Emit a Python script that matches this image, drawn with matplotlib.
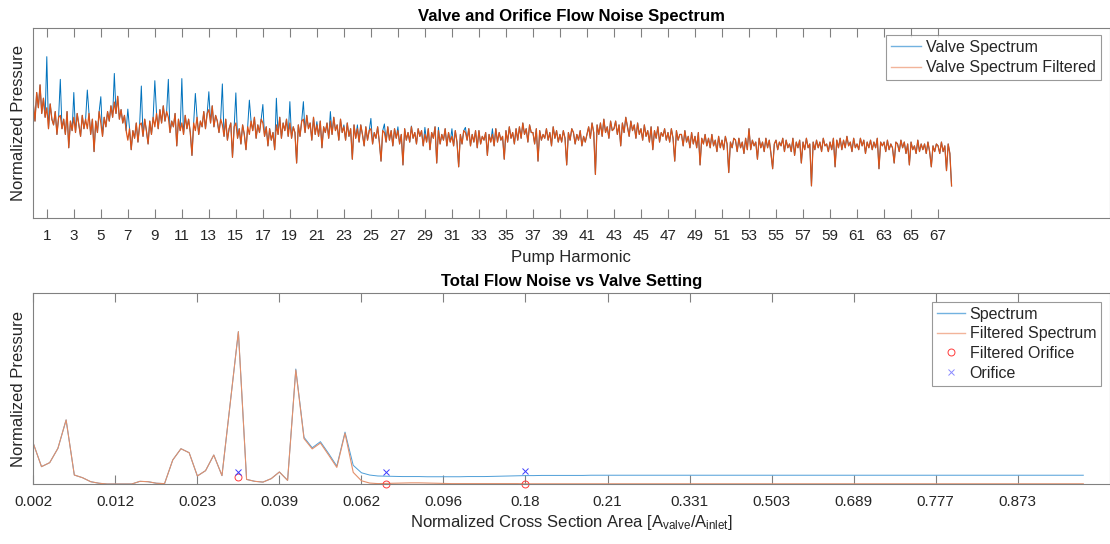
import matplotlib
matplotlib.use("Agg")
import matplotlib.pyplot as plt
import numpy as np

plt.rcParams["font.family"] = ["Liberation Sans", "DejaVu Sans"]
plt.rcParams["mathtext.fontset"] = "custom"
plt.rcParams["mathtext.rm"] = "Liberation Sans"
plt.rcParams["mathtext.it"] = "Liberation Sans"

BLUE = "#0072BD"
ORANGE = "#D95319"
AXIS_GRAY = "#808080"
TEXT = "#262626"

# ---------------- top panel: valve spectrum (8 samples per harmonic) ----------------
# values in % of axis height
filt_h00_17 = [
    60, 51, 66, 58, 70, 55, 63, 53,
    58, 47, 60, 52, 49, 56, 44, 53,
    54, 47, 52, 44, 56, 37, 51, 46,
    53, 45, 55, 49, 43, 54, 47, 52,
    47, 55, 44, 52, 35, 51, 45, 56,
    50, 43, 53, 48, 56, 51, 59, 53,
    61, 55, 64, 52, 57, 50, 54, 46,
    41, 47, 36, 46, 42, 50, 40, 49,
    50, 43, 52, 46, 39, 51, 44, 53,
    48, 55, 47, 57, 50, 59, 51, 56,
    53, 45, 51, 48, 55, 38, 52, 46,
    50, 44, 54, 47, 52, 45, 33, 50,
    46, 53, 44, 51, 48, 56, 47, 55,
    57, 50, 59, 48, 54, 51, 45, 52,
    49, 43, 52, 41, 47, 50, 32, 48,
    50, 42, 47, 39, 49, 44, 36, 48,
    44, 51, 46, 53, 42, 49, 45, 52,
]
filt_h17_34 = [
    50, 43, 48, 38, 47, 41, 45, 36,
    49, 44, 53, 42, 50, 46, 52, 43,
    50, 42, 48, 45, 29, 49, 43, 51,
    52, 45, 54, 47, 50, 41, 53, 44,
    49, 43, 51, 37, 48, 45, 50, 42,
    51, 44, 53, 46, 49, 41, 52, 45,
    48, 41, 50, 43, 47, 31, 49, 42,
    47, 40, 49, 44, 38, 48, 41, 46,
    47, 39, 45, 42, 48, 40, 30, 46,
    45, 40, 48, 41, 46, 38, 47, 42,
    46, 39, 44, 28, 47, 41, 45, 40,
    48, 42, 45, 39, 47, 43, 46, 38,
    44, 40, 47, 36, 45, 42, 48, 29,
    46, 39, 44, 41, 47, 38, 45, 40,
    43, 38, 46, 40, 27, 44, 39, 46,
    45, 41, 47, 38, 44, 40, 46, 37,
    46, 39, 43, 41, 45, 33, 44, 40,
]
filt_h34_51 = [
    44, 38, 47, 40, 45, 41, 43, 31,
    46, 40, 48, 42, 45, 39, 47, 41,
    48, 42, 50, 44, 47, 40, 49, 45,
    45, 39, 47, 30, 46, 41, 44, 42,
    47, 41, 45, 38, 48, 42, 46, 40,
    44, 40, 46, 42, 28, 45, 41, 47,
    45, 39, 44, 41, 46, 38, 43, 40,
    44, 48, 42, 50, 45, 23, 49, 44,
    50, 43, 52, 45, 48, 42, 51, 46,
    47, 51, 44, 49, 38, 50, 45, 53,
    48, 43, 51, 46, 49, 42, 50, 44,
    47, 41, 49, 43, 46, 40, 48, 36,
    46, 42, 48, 40, 45, 43, 47, 41,
    45, 40, 47, 42, 30, 46, 41, 44,
    44, 38, 46, 40, 43, 37, 45, 39,
    43, 37, 45, 28, 42, 39, 44, 38,
    42, 37, 44, 38, 41, 35, 43, 37,
]
filt_h51_68 = [
    41, 36, 43, 39, 24, 40, 37, 42,
    41, 35, 42, 37, 40, 34, 42, 36,
    47, 36, 41, 38, 40, 31, 42, 37,
    40, 35, 42, 37, 41, 34, 26, 39,
    41, 36, 40, 38, 42, 35, 41, 37,
    39, 35, 42, 33, 40, 37, 41, 29,
    40, 36, 42, 37, 39, 17, 40, 36,
    41, 37, 40, 35, 42, 38, 39, 35,
    40, 36, 42, 27, 41, 37, 42, 36,
    41, 37, 43, 38, 40, 35, 42, 37,
    39, 36, 42, 38, 41, 34, 40, 37,
    41, 36, 40, 37, 42, 26, 40, 38,
    40, 35, 41, 36, 39, 37, 29, 40,
    39, 35, 41, 37, 40, 34, 39, 28,
    40, 36, 38, 34, 41, 35, 39, 36,
    39, 34, 40, 35, 27, 38, 35, 39,
    38, 34, 40, 35, 38, 25, 39, 34,
    17,
]
SAMPLES_PER_HARMONIC = 8

# spikes of the unfiltered spectrum at the pump harmonics
spike_harmonic = list(range(1, 35))
spike_level = [84.8, 72.9, 66.0, 67.3, 63.8, 76.0, 57.3, 69.4, 72.2, 72.9,
               73.3, 65.5, 66.4, 70.5, 65.8, 62.0, 59.7, 63.0, 61.2, 61.2,
               50.7, 56.0, 49.0, 49.0, 52.4, 49.5, 48.0, 48.4, 47.7, 47.7,
               47.0, 47.7, 46.0, 47.0]

harmonic_ticks = list(range(1, 68, 2))

# ---------------- bottom panel: total noise vs valve setting ----------------
filt_total = [
    0.213, 0.091, 0.112, 0.187, 0.336, 0.047, 0.033, 0.012, 0.004, 0.000,
    0.000, 0.000, 0.000, 0.014, 0.012, 0.004, 0.002, 0.126, 0.185, 0.164,
    0.042, 0.070, 0.152, 0.044, 0.420, 0.799, 0.024, 0.014, 0.010, 0.028,
    0.063, 0.019, 0.598, 0.238, 0.184, 0.215, 0.152, 0.087, 0.266, 0.061,
    0.017, 0.005, 0.002, 0.003, 0.004, 0.005, 0.006, 0.006, 0.005, 0.004,
    0.003, 0.002, 0.002, 0.002, 0.002, 0.002, 0.002, 0.002, 0.002, 0.002,
    0.001, 0.001, 0.001, 0.001, 0.001, 0.001, 0.001, 0.001, 0.001, 0.001,
    0.001, 0.001, 0.001, 0.001, 0.001, 0.001, 0.001, 0.001, 0.001, 0.001,
    0.001, 0.001, 0.001, 0.001, 0.001, 0.001, 0.001, 0.001, 0.001, 0.001,
    0.001, 0.001, 0.001, 0.001, 0.001, 0.001, 0.001, 0.001, 0.001, 0.001,
    0.001, 0.001, 0.001, 0.001, 0.001, 0.001, 0.001, 0.001, 0.001, 0.001,
    0.001, 0.001, 0.001, 0.001, 0.001, 0.001, 0.001, 0.001, 0.001, 0.001,
    0.001, 0.001, 0.001, 0.001, 0.001, 0.001, 0.001, 0.001, 0.001,
]
spec_total = [
    0.213, 0.091, 0.112, 0.187, 0.336, 0.047, 0.033, 0.012, 0.004, 0.000,
    0.000, 0.000, 0.000, 0.014, 0.012, 0.004, 0.002, 0.126, 0.185, 0.164,
    0.042, 0.070, 0.152, 0.044, 0.420, 0.799, 0.024, 0.014, 0.010, 0.028,
    0.063, 0.019, 0.603, 0.245, 0.190, 0.222, 0.160, 0.094, 0.272, 0.098,
    0.059, 0.047, 0.042, 0.041, 0.040, 0.039, 0.039, 0.039, 0.038, 0.038,
    0.038, 0.038, 0.038, 0.039, 0.039, 0.039, 0.040, 0.041, 0.042, 0.043,
    0.044, 0.044, 0.045, 0.045, 0.045, 0.045, 0.045, 0.045, 0.046, 0.046,
    0.046, 0.046, 0.046, 0.046, 0.046, 0.046, 0.046, 0.046, 0.046, 0.046,
    0.046, 0.046, 0.046, 0.046, 0.046, 0.046, 0.046, 0.046, 0.046, 0.046,
    0.046, 0.046, 0.046, 0.046, 0.046, 0.046, 0.046, 0.046, 0.046, 0.046,
    0.046, 0.046, 0.046, 0.046, 0.046, 0.046, 0.046, 0.046, 0.046, 0.046,
    0.046, 0.046, 0.046, 0.046, 0.046, 0.046, 0.046, 0.046, 0.046, 0.046,
    0.046, 0.046, 0.046, 0.046, 0.046, 0.046, 0.046, 0.046, 0.046,
]
orifice_index = [25, 43, 60]
orifice_spec = [0.064, 0.064, 0.070]
orifice_filt = [0.035, 0.000, 0.000]

area_labels = ["0.002", "0.012", "0.023", "0.039", "0.062", "0.096", "0.18",
               "0.21", "0.331", "0.503", "0.689", "0.777", "0.873"]


def style_axes(ax):
    for sp in ax.spines.values():
        sp.set_color(AXIS_GRAY)
        sp.set_linewidth(0.8)
    ax.tick_params(axis="x", direction="in", top=True, length=6.5, width=0.8,
                   color=AXIS_GRAY, labelcolor=TEXT, labelsize=11, pad=8)
    ax.set_yticks([])


def style_legend(leg, handle_colors):
    leg.get_frame().set_linewidth(0.8)
    for t in leg.get_texts():
        t.set_color(TEXT)
    for ln, c in zip(leg.get_lines(), handle_colors):
        ln.set_color(c)
        ln.set_linewidth(1.0)
        if ln.get_marker() == "o":
            ln.set_markerfacecolor("none")


fig = plt.figure(figsize=(11.1, 5.44), dpi=100)

# top panel
ax1 = fig.add_axes([0.030, 0.5987, 0.9696, 0.3504])
filtered = np.array(filt_h00_17 + filt_h17_34 + filt_h34_51 + filt_h51_68, dtype=float)
harm = np.arange(len(filtered)) / SAMPLES_PER_HARMONIC
spectrum = filtered.copy()
for h, lvl in zip(spike_harmonic, spike_level):
    spectrum[h * SAMPLES_PER_HARMONIC] = lvl

ax1.plot(harm, spectrum, color=BLUE, lw=0.7, label="Valve Spectrum")
ax1.plot(harm, filtered, color=ORANGE, lw=0.9, label="Valve Spectrum Filtered")
ax1.set_xlim(0, 79.7)
ax1.set_ylim(0, 100)
ax1.set_xticks(harmonic_ticks)
ax1.set_xticklabels([str(h) for h in harmonic_ticks])
style_axes(ax1)
ax1.set_xlabel("Pump Harmonic", fontsize=12, color=TEXT, labelpad=5)
ax1.set_ylabel("Normalized Pressure", fontsize=12, color=TEXT, labelpad=5)
ax1.set_title("Valve and Orifice Flow Noise Spectrum", fontsize=12,
              fontweight="bold", color="black", pad=5)
leg1 = ax1.legend(loc="upper right", bbox_to_anchor=(0.992, 0.962), fontsize=11.5,
                  fancybox=False, edgecolor=AXIS_GRAY, handlelength=1.9,
                  handletextpad=0.3, borderpad=0.3, labelspacing=0.35,
                  borderaxespad=0)
style_legend(leg1, ["#72B2E0", "#F2B49A"])

# bottom panel
ax2 = fig.add_axes([0.030, 0.1103, 0.9696, 0.3505])
idx = np.arange(len(spec_total))
ax2.plot(idx, spec_total, color="#4D9ED8", lw=0.7, label="Spectrum")
ax2.plot(idx, filt_total, color="#E3906B", lw=0.8, label="Filtered Spectrum")
ax2.plot(orifice_index, orifice_filt, "o", mfc="none", mec="#FF3B3B", ms=5,
         mew=0.7, label="Filtered Orifice", clip_on=False)
ax2.plot(orifice_index, orifice_spec, "x", color="#3B3BFF", ms=3.8, mew=0.7,
         label="Orifice")
ax2.set_xlim(0, 131.2)
ax2.set_ylim(0, 1)
ax2.set_xticks(range(0, 10 * len(area_labels), 10))
ax2.set_xticklabels(area_labels)
style_axes(ax2)
ax2.set_xlabel(r"Normalized Cross Section Area [A$_{\mathrm{valve}}$/A$_{\mathrm{inlet}}$]",
               fontsize=12, color=TEXT, labelpad=3)
ax2.set_ylabel("Normalized Pressure", fontsize=12, color=TEXT, labelpad=5)
ax2.set_title("Total Flow Noise vs Valve Setting", fontsize=12,
              fontweight="bold", color="black", pad=5)
leg2 = ax2.legend(loc="upper right", bbox_to_anchor=(0.992, 0.956), fontsize=11.5,
                  fancybox=False, edgecolor=AXIS_GRAY, handlelength=1.75,
                  handletextpad=0.3, borderpad=0.3, labelspacing=0.3,
                  borderaxespad=0)
style_legend(leg2, ["#72B2E0", "#F2B49A", "#FF8A8A", "#8A8AFF"])

fig.savefig("out.png", dpi=100)
